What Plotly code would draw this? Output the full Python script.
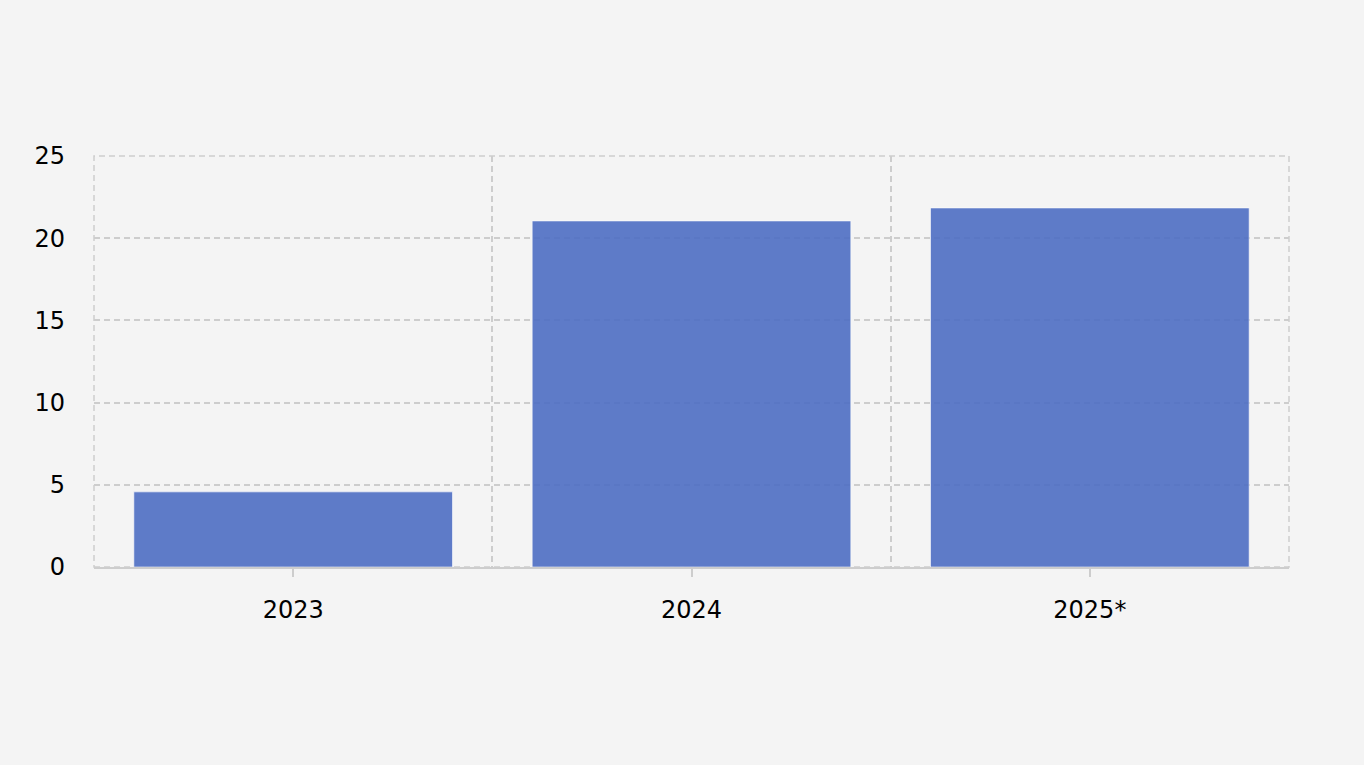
import plotly.graph_objects as go

years = ["2023", "2024", "2025*"]
values = [4.57, 21.05, 21.84]
y_ticks = [0, 5, 10, 15, 20, 25]

bg = "#f4f4f4"
grid = "#cdcdcd"

fig = go.Figure()
fig.add_trace(go.Bar(
    x=years, y=values,
    marker=dict(color="rgb(78,110,196)", opacity=0.9,
                line=dict(color="rgba(255,255,255,0.6)", width=1)),
    hoverinfo="x+y",
))
# helper trace so the second x axis (grid on category boundaries) gets drawn
fig.add_trace(go.Scatter(x=years, y=[None] * 3, xaxis="x2", showlegend=False, hoverinfo="skip"))

fig.update_layout(
    width=1364, height=765,
    paper_bgcolor=bg, plot_bgcolor=bg,
    margin=dict(l=94, r=75, t=156, b=198),
    font=dict(family="DejaVu Sans, Verdana, sans-serif", size=24, color="#000"),
    showlegend=False,
    bargap=0.2,
    xaxis=dict(type="category", showgrid=False, ticks="outside", ticklen=8,
               tickcolor=grid, tickwidth=1.5, showline=True, linecolor=grid, linewidth=1.5,
               ticklabelstandoff=12),
    xaxis2=dict(type="category", overlaying="x", matches="x", tickson="boundaries",
                showgrid=True, gridcolor=grid, griddash="6px,4px", gridwidth=1.5,
                showticklabels=False, ticks=""),
    yaxis=dict(range=[0, 25], tickvals=y_ticks, showgrid=True, gridcolor=grid,
               griddash="6px,4px", gridwidth=1.5, zeroline=False, ticks="",
               ticklabelstandoff=28),
)

# dashed frame round the plot area (outer grid lines)
fig.add_shape(type="rect", xref="paper", yref="paper", x0=0, x1=1, y0=0, y1=1,
              line=dict(color=grid, width=1.5, dash="6px,4px"), layer="below")

fig.write_html("out.html", config={"displayModeBar": False},
               post_script="document.body.style.margin='0';document.body.style.background='#f4f4f4';")
